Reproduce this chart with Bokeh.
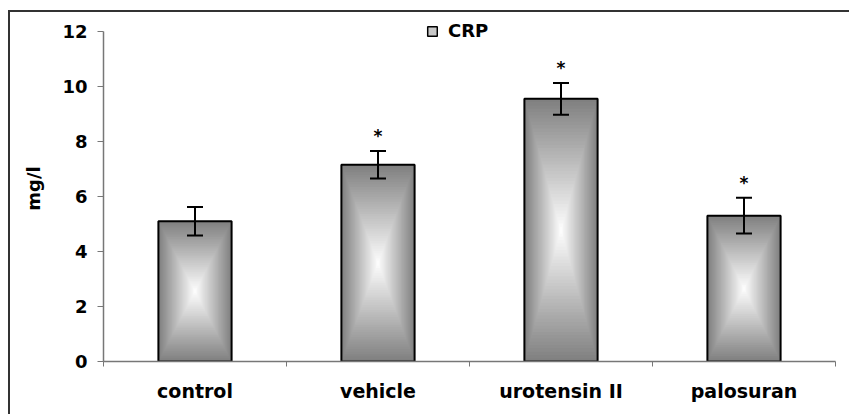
import numpy as np
from bokeh.plotting import figure
from bokeh.models import (ColumnDataSource, Range1d, FixedTicker, Whisker, TeeHead,
                          Legend, LegendItem)
from bokeh.embed import file_html
from bokeh.resources import INLINE

# ---- data ----
categories = ["control", "vehicle", "urotensin II", "palosuran"]
crp = [5.1, 7.15, 9.55, 5.3]            # mg/l
crp_err = [0.52, 0.5, 0.58, 0.65]       # error (±)
significant = [False, True, True, True]  # "*" markers
y_ticks = [0, 2, 4, 6, 8, 10, 12]
series_name = "CRP"
y_label = "mg/l"

FONT = "DejaVu Sans"
BAR_W = 0.4
N_STEPS = 40
EDGE = 128
Y_MAX = 12
Y_HEADROOM = 0.58   # space above the axis top for the legend (layout only)

xs = [i + 0.5 for i in range(len(categories))]

# chart-area border (top and left edges) painted behind the transparent canvas border
frame_bg = ("linear-gradient(#333,#333) 8px 10px / 100% 2px no-repeat, "
            "linear-gradient(#333,#333) 8px 10px / 2px 100% no-repeat, white")

p = figure(width=849, height=414, output_backend="svg", toolbar_location=None,
           x_range=Range1d(0, len(categories)), y_range=Range1d(0, Y_MAX + Y_HEADROOM),
           min_border_left=103, min_border_right=14, min_border_top=15,
           min_border_bottom=53, styles={"background": frame_bg})
p.outline_line_color = None
p.xgrid.grid_line_color = None
p.ygrid.grid_line_color = None
p.background_fill_color = "white"
p.border_fill_color = None

# gradient bars: nested rectangles from edge (grey) to center (white)
gx, gy, gw, gh, gc = [], [], [], [], []
for k in range(N_STEPS, 0, -1):
    t = k / N_STEPS
    g = int(round(255 - (255 - EDGE) * t))
    col = "#%02x%02x%02x" % (g, g, g)
    for x, v in zip(xs, crp):
        gx.append(x); gy.append(v / 2); gw.append(BAR_W * t); gh.append(v * t); gc.append(col)
grad_src = ColumnDataSource(dict(x=gx, y=gy, w=gw, h=gh, c=gc))
p.rect(x="x", y="y", width="w", height="h", fill_color="c", line_color=None, source=grad_src)

bar_src = ColumnDataSource(dict(x=xs, y=[v / 2 for v in crp], h=crp,
                                upper=[v + e for v, e in zip(crp, crp_err)],
                                lower=[v - e for v, e in zip(crp, crp_err)]))
p.rect(x="x", y="y", width=BAR_W, height="h", fill_color=None, line_color="black",
       line_width=2, source=bar_src)

# error bars (drawn above the bars)
wh = Whisker(base="x", upper="upper", lower="lower", source=bar_src, level="annotation",
             line_color="black", line_width=2,
             upper_head=TeeHead(size=16, line_color="black", line_width=2),
             lower_head=TeeHead(size=16, line_color="black", line_width=2))
p.add_layout(wh)

# significance asterisks
sx = [x for x, s in zip(xs, significant) if s]
sy = [v + e for v, e, s in zip(crp, crp_err, significant) if s]
p.text(x=sx, y=sy, text=["*"] * len(sx), text_align="center", text_baseline="alphabetic",
       y_offset=-15, text_font_size="17px", text_font_style="bold", text_color="black",
       text_font={"value": FONT})

# legend (zero-size swatch renderer hidden under the first bar's base)
leg_r = p.rect(x=[xs[0]], y=[0], width=0, height=0, fill_color="#c8c8c8",
               line_color="black", line_width=1.5)
legend = Legend(items=[LegendItem(label=series_name, renderers=[leg_r])],
                location=(323, 320), orientation="horizontal",
                margin=0, padding=0, border_line_color=None, background_fill_alpha=0,
                glyph_width=12, glyph_height=12, label_standoff=10,
                label_text_font=FONT, label_text_font_style="bold",
                label_text_font_size="18px", label_text_color="black")
p.add_layout(legend)

# axes
xa = p.xaxis[0]
xa.ticker = FixedTicker(ticks=xs, minor_ticks=list(range(len(categories) + 1)))
xa.major_label_overrides = {x: c for x, c in zip(xs, categories)}
xa.major_tick_line_color = None
xa.major_tick_out = 0
xa.major_tick_in = 0
xa.minor_tick_line_color = "#777777"
xa.minor_tick_out = 5
xa.minor_tick_in = 0
xa.axis_line_color = "#777777"
xa.axis_line_width = 1.5
xa.major_label_standoff = 13
xa.major_label_text_font = FONT
xa.major_label_text_font_style = "bold"
xa.major_label_text_font_size = "19px"
xa.major_label_text_color = "black"

ya = p.yaxis[0]
ya.ticker = FixedTicker(ticks=y_ticks)
ya.bounds = (0, Y_MAX)
ya.major_tick_line_color = "#777777"
ya.major_tick_out = 6
ya.major_tick_in = 0
ya.minor_tick_line_color = None
ya.axis_line_color = "#777777"
ya.axis_line_width = 1.5
ya.major_label_standoff = 10
ya.major_label_text_font = FONT
ya.major_label_text_font_style = "bold"
ya.major_label_text_font_size = "18px"
ya.major_label_text_color = "black"
ya.axis_label = y_label
ya.axis_label_standoff = 15
ya.axis_label_text_font = FONT
ya.axis_label_text_font_style = "bold"
ya.axis_label_text_font_size = "18px"
ya.axis_label_text_color = "black"

open("out.html", "w").write(file_html(p, INLINE))
